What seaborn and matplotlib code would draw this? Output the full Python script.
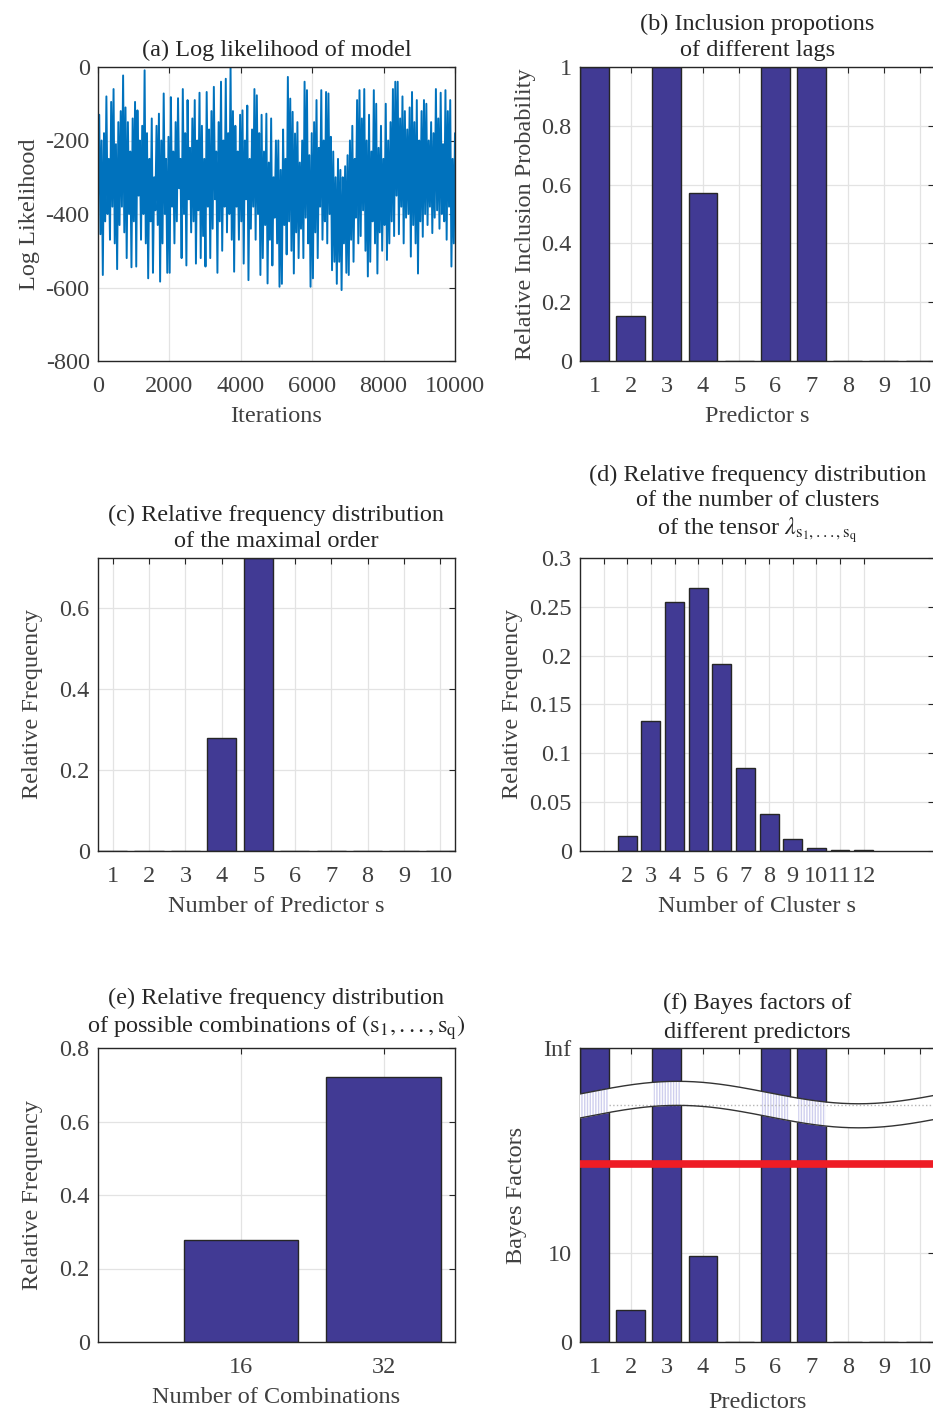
import matplotlib
matplotlib.use('Agg')
import matplotlib.pyplot as plt
import seaborn as sns
import numpy as np
import pandas as pd

# ---------------- data ----------------
# (a) log likelihood trace, read block by block (about 333 iterations per row)
loglik = [
    -350, -130, -455, -200, -566, -180, -420, -80, -400, -250,
    -470, -95, -380, -60, -480, -210, -550, -150, -430, -120,
    -380, -23, -450, -110, -520, -150, -400, -230, -545, -140,
    -420, -95, -543, -118, -350, -200, -470, -160, -400, -9,
    -480, -180, -575, -250, -420, -140, -560, -300, -390, -160,
    -430, -127, -584, -200, -480, -72, -400, -250, -560, -190,
    -560, -82, -380, -230, -480, -150, -420, -85, -330, -250,
    -520, -60, -400, -180, -540, -90, -360, -220, -450, -140,
    -420, -90, -535, -200, -390, -70, -520, -160, -460, -250,
    -543, -68, -380, -170, -520, -120, -440, -54, -360, -230,
    -560, -150, -420, -40, -500, -200, -380, -32, -450, -180,
    -400, 0, -470, -120, -557, -160, -380, -230, -470, -130,
    -420, -118, -535, -200, -360, -105, -580, -250, -440, -170,
    -380, -60, -470, -77, -400, -180, -566, -130, -520, -230,
    -430, -127, -589, -260, -470, -140, -540, -300, -410, -200,
    -480, -200, -598, -280, -590, -170, -430, -250, -510, -27,
    -420, -86, -500, -122, -562, -181, -450, -150, -520, -260,
    -440, -200, -520, -40, -410, -63, -480, -240, -598, -180,
    -575, -150, -450, -90, -520, -220, -380, -63, -470, -200,
    -420, -68, -480, -72, -400, -190, -553, -230, -530, -300,
    -590, -250, -530, -280, -607, -300, -480, -270, -560, -240,
    -566, -200, -470, -160, -530, -250, -410, -90, -480, -63,
    -460, -140, -390, -60, -500, -200, -570, -130, -530, -230,
    -420, -63, -480, -100, -562, -220, -450, -160, -500, -250,
    -430, -100, -525, -200, -480, -150, -420, -60, -460, -40,
    -350, -40, -455, -140, -380, -80, -480, -120, -410, -170,
    -400, -110, -516, -68, -430, -150, -480, -90, -562, -200,
    -420, -120, -462, -90, -400, -100, -430, -200, -380, -150,
    -452, -180, -410, -60, -390, -140, -440, -70, -400, -210,
    -420, -63, -470, -120, -380, -90, -543, -250, -480, -180,
]
n_iter = 10000

# (b) inclusion proportions
lags = [1, 2, 3, 4, 5, 6, 7, 8, 9, 10]
incl_prob = [1.0, 0.153, 1.0, 0.572, 0.0, 1.0, 1.0, 0.0, 0.0, 0.0]

# (c) maximal order
orders = [1, 2, 3, 4, 5, 6, 7, 8, 9, 10]
order_freq = [0, 0, 0, 0.278, 0.722, 0, 0, 0, 0, 0]

# (d) number of clusters
clusters = [2, 3, 4, 5, 6, 7, 8, 9, 10, 11, 12]
cluster_freq = [0.0154, 0.1332, 0.2549, 0.2692, 0.1913, 0.0847,
                0.0376, 0.012, 0.0027, 0.001, 0.0007]

# (e) combinations
combos = [16, 32]
combo_freq = [0.278, 0.722]

# (f) Bayes factors
predictors = [1, 2, 3, 4, 5, 6, 7, 8, 9, 10]
bayes = [np.inf, 3.6, np.inf, 9.7, 0, np.inf, np.inf, 0, 0, 0]
bf_threshold = 20

# ---------------- style ----------------
sns.set_theme(style='white')
plt.rcParams['font.family'] = ['Liberation Serif', 'DejaVu Serif']
plt.rcParams['mathtext.fontset'] = 'stix'
plt.rcParams['axes.unicode_minus'] = False

FS = 17.5
BAR = '#413a94'
EDGE = '#262626'
AXC = '#262626'
TXT = '#404040'


def matlab_axes(ax):
    for s in ax.spines.values():
        s.set_color(AXC)
        s.set_linewidth(1.0)
        s.set_visible(True)
    ax.tick_params(direction='in', top=True, right=True, length=4,
                   width=0.8, colors=AXC, labelcolor=TXT, labelsize=FS)
    ax.tick_params(axis='x', pad=11)
    ax.tick_params(axis='y', pad=6)
    ax.grid(True, color='#e3e3e3', linewidth=0.9)
    ax.set_axisbelow(True)


def bars(ax, x, y):
    df = pd.DataFrame({'x': x, 'y': y})
    sns.barplot(data=df, x='x', y='y', native_scale=True, color=BAR,
                saturation=1, edgecolor=EDGE, linewidth=1.0,
                errorbar=None, width=0.8, ax=ax)


fig = plt.figure(figsize=(9.33, 14.12), dpi=100)
W, H = 933.0, 1412.0


def box(l, r, t, b):
    return [l / W, 1 - b / H, (r - l) / W, (b - t) / H]


ax_a = fig.add_axes(box(98, 455, 67, 361))
ax_b = fig.add_axes(box(580, 934.5, 67, 361))
ax_c = fig.add_axes(box(98, 455, 558, 851))
ax_d = fig.add_axes(box(580, 934.5, 558, 851))
ax_e = fig.add_axes(box(98, 455, 1048, 1342))
ax_f = fig.add_axes(box(580, 934.5, 1048, 1342))

TL = dict(fontsize=FS, linespacing=1.3)
XL = dict(fontsize=FS, color=TXT, labelpad=6)

# (a)
its = np.linspace(1, n_iter, len(loglik))
sns.lineplot(x=its, y=loglik, color='#0072BD', linewidth=1.4, ax=ax_a)
ax_a.set_xlim(0, n_iter)
ax_a.set_ylim(-800, 0)
ax_a.set_xticks([0, 2000, 4000, 6000, 8000, 10000])
ax_a.set_yticks([-800, -600, -400, -200, 0])
matlab_axes(ax_a)
ax_a.set_title('(a) Log likelihood of model', pad=8, **TL)
ax_a.set_xlabel('Iterations', **XL)
ax_a.set_ylabel('Log Likelihood', fontsize=FS, color=TXT)

# (b)
bars(ax_b, lags, incl_prob)
ax_b.set_xlim(0.6, 10.4)
ax_b.set_ylim(0, 1)
ax_b.set_xticks(lags)
ax_b.set_yticks([0, 0.2, 0.4, 0.6, 0.8, 1])
ax_b.set_yticklabels(['0', '0.2', '0.4', '0.6', '0.8', '1'])
matlab_axes(ax_b)
ax_b.set_title('(b) Inclusion propotions\nof different lags', pad=8, **TL)
ax_b.set_xlabel('Predictor s', **XL)
ax_b.set_ylabel('Relative Inclusion Probability', fontsize=FS, color=TXT,
                labelpad=4)

# (c)
bars(ax_c, orders, order_freq)
ax_c.set_xlim(0.6, 10.4)
ax_c.set_ylim(0, max(order_freq))
ax_c.set_xticks(orders)
ax_c.set_yticks([0, 0.2, 0.4, 0.6])
ax_c.set_yticklabels(['0', '0.2', '0.4', '0.6'])
matlab_axes(ax_c)
ax_c.set_title('(c) Relative frequency distribution\nof the maximal order',
               pad=8, **TL)
ax_c.set_xlabel('Number of Predictor s', **XL)
ax_c.set_ylabel('Relative Frequency', fontsize=FS, color=TXT, labelpad=12)

# (d)
bars(ax_d, clusters, cluster_freq)
ax_d.set_xlim(0, 15)
ax_d.set_ylim(0, 0.3)
ax_d.set_xticks([1] + clusters)
ax_d.set_xticklabels([''] + [str(c) for c in clusters])
ax_d.set_yticks([0, 0.05, 0.1, 0.15, 0.2, 0.25, 0.3])
ax_d.set_yticklabels(['0', '0.05', '0.1', '0.15', '0.2', '0.25', '0.3'])
matlab_axes(ax_d)
ax_d.set_title('(d) Relative frequency distribution\nof the number of clusters\n'
               r'of the tensor $\lambda_{\mathrm{s}_1,...,\mathrm{s}_\mathrm{q}}$',
               pad=16, fontsize=FS, linespacing=1.25)
ax_d.set_xlabel('Number of Cluster s', **XL)
ax_d.set_ylabel('Relative Frequency', fontsize=FS, color=TXT)

# (e)
bars(ax_e, combos, combo_freq)
ax_e.set_xlim(0, 40)
ax_e.set_ylim(0, 0.8)
ax_e.set_xticks(combos)
ax_e.set_yticks([0, 0.2, 0.4, 0.6, 0.8])
ax_e.set_yticklabels(['0', '0.2', '0.4', '0.6', '0.8'])
matlab_axes(ax_e)
ax_e.set_title('(e) Relative frequency distribution\n'
               r'of possible combinations of $(\mathrm{s}_1,...,\mathrm{s}_\mathrm{q})$',
               pad=11, fontsize=FS, linespacing=1.2)
ax_e.set_xlabel('Number of Combinations', **XL)
ax_e.set_ylabel('Relative Frequency', fontsize=FS, color=TXT, labelpad=12)

# (f) Bayes factors on a broken axis, Inf drawn at the top
ytop = 33
bf_draw = [ytop if np.isinf(v) else v for v in bayes]
bars(ax_f, predictors, bf_draw)
ax_f.set_xlim(0.6, 10.4)
ax_f.set_ylim(0, ytop)
ax_f.set_xticks(predictors)
ax_f.set_yticks([0, 10, ytop])
ax_f.set_yticklabels(['0', '10', 'Inf'])
matlab_axes(ax_f)
ax_f.axhline(bf_threshold, color='#ee1c25', linewidth=5.5, zorder=4)

xs = np.linspace(0.6, 10.4, 300)
up = 28.0 + 1.26 * np.sin(2 * np.pi * (xs - 0.8) / 10)
lo = up - 2.7
ax_f.fill_between(xs, lo, up, color='white', lw=0, zorder=3)
for p, v in zip(predictors, bayes):
    if np.isinf(v):
        m = (xs >= p - 0.4) & (xs <= p + 0.4)
        ax_f.fill_between(xs[m], lo[m], up[m], facecolor='white',
                          edgecolor='#cfcfee', hatch='||||||', lw=0,
                          zorder=3.2)
ax_f.hlines(26.55, 1.4, 10.4, colors='#b5b5b5', linestyles=':',
            linewidth=1.0, zorder=3.3)
ax_f.plot(xs, up, color='#333333', lw=1.0, zorder=3.5)
ax_f.plot(xs, lo, color='#333333', lw=1.0, zorder=3.5)
ax_f.set_title('(f) Bayes factors of\ndifferent predictors', fontsize=FS,
               pad=7, linespacing=1.5)
ax_f.set_xlabel('Predictors', fontsize=FS, color=TXT, labelpad=10)
ax_f.set_ylabel('Bayes Factors', fontsize=FS, color=TXT, labelpad=12)

fig.savefig('out.png', dpi=100)
